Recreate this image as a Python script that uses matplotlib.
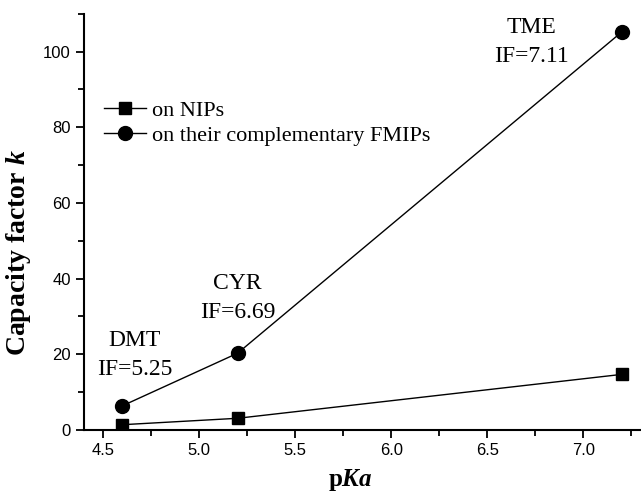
import numpy as np
import matplotlib.pyplot as plt
from matplotlib.ticker import MultipleLocator

plt.rcParams["mathtext.fontset"] = "custom"
plt.rcParams["mathtext.bf"] = "Liberation Serif:bold:italic"

# data
pka = [4.6, 5.2, 7.2]
k_nips = [1.4, 3.1, 14.7]
k_fmips = [6.4, 20.3, 105.2]
labels = ["DMT\nIF=5.25", "CYR\nIF=6.69", "TME\nIF=7.11"]
label_pos = [(4.665, 19.8), (5.20, 34.9), (6.73, 102.6)]

serif = ["Liberation Serif", "DejaVu Serif"]
sans = ["Liberation Sans", "DejaVu Sans"]

fig = plt.figure(figsize=(6.41, 4.92), dpi=100)
ax = fig.add_axes([0.131, 0.126, 0.869, 0.846])

ax.plot(pka, k_nips, color="black", lw=1.0, marker="s", ms=9, label="on NIPs")
ax.plot(pka, k_fmips, color="black", lw=1.0, marker="o", ms=10,
        label="on their complementary FMIPs")

for txt, (x, y) in zip(labels, label_pos):
    ax.text(x, y, txt, ha="center", va="center", fontsize=17,
            family=serif, linespacing=1.5)

ax.set_xlim(4.4, 7.3)
ax.set_ylim(0, 110)
ax.xaxis.set_major_locator(MultipleLocator(0.5))
ax.xaxis.set_minor_locator(MultipleLocator(0.25))
ax.yaxis.set_major_locator(MultipleLocator(20))
ax.yaxis.set_minor_locator(MultipleLocator(10))

for side in ["top", "right"]:
    ax.spines[side].set_visible(False)
for side in ["left", "bottom"]:
    ax.spines[side].set_linewidth(1.5)

ax.tick_params(which="major", direction="out", length=6, width=1.3)
ax.tick_params(which="minor", direction="out", length=4, width=1.3)
for lab in ax.get_xticklabels() + ax.get_yticklabels():
    lab.set_family(sans)
    lab.set_fontsize(12)

ax.set_xlabel(r"p$\mathbf{Ka}$", fontsize=18, fontweight="bold", family=serif)
ax.set_ylabel(r"Capacity factor $\mathbf{k}$", fontsize=20, fontweight="bold",
              family=serif)
ax.xaxis.set_label_coords(0.478, -0.088)
ax.yaxis.set_label_coords(-0.092, 0.425)

leg = ax.legend(loc="upper left", bbox_to_anchor=(0.0, 0.84), frameon=False,
                prop={"family": serif, "size": 16}, handlelength=1.9,
                handletextpad=0.25, labelspacing=0.2)

fig.savefig("out.png", dpi=100)
